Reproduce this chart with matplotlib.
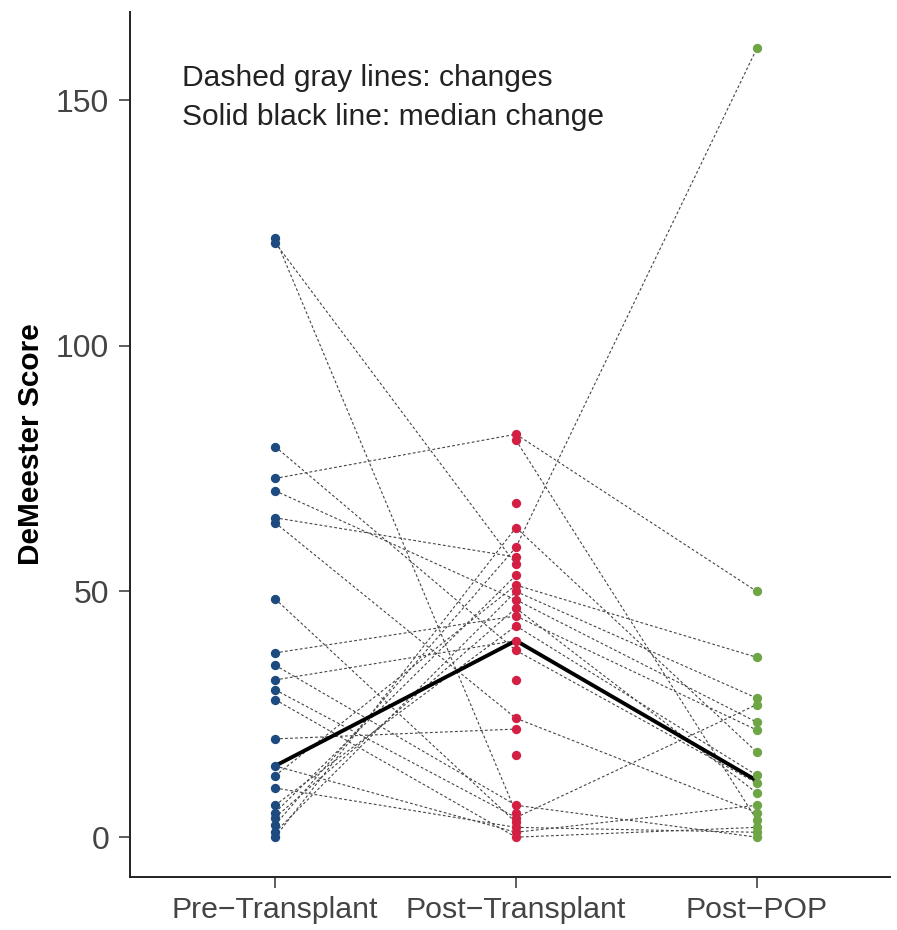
import matplotlib
matplotlib.use("Agg")
import matplotlib.pyplot as plt
import numpy as np

categories = ["Pre\u2212Transplant", "Post\u2212Transplant", "Post\u2212POP"]

# per-patient values (NaN = missing)
pre = [122, 121, 79.5, 73, 70.5, 65, 64, 48.5, 37.5, 35, 32, 30, 28, 20, 14.5, 12.5, 10, 6.5, 5, 4, 2.5, 1, 0,
       np.nan, np.nan, np.nan, np.nan, np.nan, np.nan, np.nan, np.nan, np.nan, np.nan]
post = [5, 55.5, 38, 82, 48.3, 57, 24.2, 3, 45, 6.5, 40, 4, 0, 22, 1, 51.3, 2, 43, 53.3, 46.6, 59, 50, 63,
        80.8, 68, 32, 16.7, np.nan, np.nan, np.nan, np.nan, np.nan, np.nan]
pop = [np.nan, np.nan, 11, 50, 23.4, np.nan, 5, np.nan, 21.8, 0, np.nan, 27, 2, np.nan, 6.5, 36.6, 1, 12.6,
       np.nan, 9, 160.5, 28.3, 17.3, 3.5, np.nan, np.nan, np.nan, np.nan, np.nan, np.nan, np.nan, np.nan, np.nan]

medians = [14.5, 40, 11.5]
colors = ["#1d4a7f", "#d41f44", "#6ea545"]

plt.rcParams['font.family'] = ['Liberation Sans', 'DejaVu Sans']
fig = plt.figure(figsize=(8.97, 9.3), dpi=100)
ax = fig.add_axes([0.145, 0.057, 0.847, 0.930])

pre_a, post_a, pop_a = np.array(pre), np.array(post), np.array(pop)
for a, b, xa, xb in [(pre_a, post_a, 1, 2), (post_a, pop_a, 2, 3)]:
    for va, vb in zip(a, b):
        if not (np.isnan(va) or np.isnan(vb)):
            ax.plot([xa, xb], [va, vb], color="#444444", lw=0.8, ls=(0, (2.5, 2)), zorder=1)

for i, arr in enumerate([pre_a, post_a, pop_a]):
    v = arr[~np.isnan(arr)]
    ax.scatter(np.full(len(v), i + 1), v, s=45, color=colors[i], zorder=3, linewidths=0)

ax.plot([1, 2, 3], medians, color="black", lw=2.8, zorder=2)

ax.set_xlim(0.398, 3.552)
ax.set_ylim(-8.1, 167.9)
ax.set_xticks([1, 2, 3])
ax.set_xticklabels(categories, fontsize=21.8, color="#444444")
ax.set_yticks([0, 50, 100, 150])
ax.set_yticklabels(["0", "50", "100", "150"], fontsize=23, color="#444444")
ax.tick_params(axis="y", length=8, width=1.1, color="#333333", pad=7)
ax.tick_params(axis="x", length=8, width=1.1, color="#333333", pad=6)
ax.set_ylabel("DeMeester Score", fontsize=21.5, fontweight="bold", labelpad=8)
for s in ["top", "right"]:
    ax.spines[s].set_visible(False)
for s in ["left", "bottom"]:
    ax.spines[s].set_linewidth(1.4)
    ax.spines[s].set_color("#222222")

ax.text(0.069, 154.5, "Dashed gray lines: changes", transform=ax.get_yaxis_transform(),
        fontsize=21.6, va="center", ha="left", color="#222222")
ax.text(0.069, 146.5, "Solid black line: median change", transform=ax.get_yaxis_transform(),
        fontsize=21.6, va="center", ha="left", color="#222222")

fig.savefig("out.png", dpi=100)
